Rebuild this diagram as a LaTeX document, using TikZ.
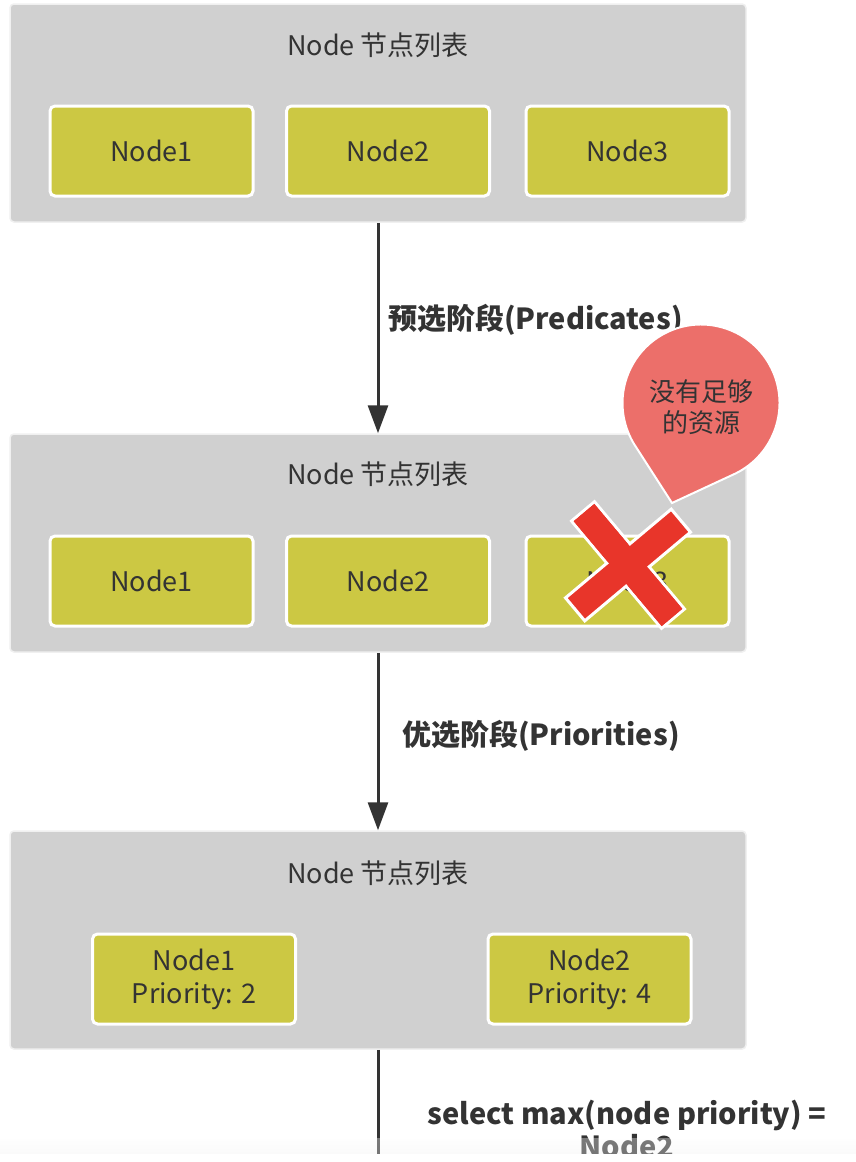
\documentclass[tikz,border=0pt]{standalone}
\usepackage{fontspec}
\setmainfont{Noto Sans CJK SC}
\usetikzlibrary{arrows.meta,calc}
\definecolor{outerfill}{HTML}{D0D0D0}
\definecolor{innerfill}{HTML}{CCC843}
\definecolor{txt}{HTML}{333333}
\definecolor{balloon}{HTML}{EC6F6A}
\definecolor{xred}{HTML}{E8352A}
\tikzset{
  outerbox/.style={fill=outerfill, draw=gray!12, line width=1.5pt, rounded corners=4pt, minimum width=736pt, minimum height=218pt, inner sep=0pt},
  innerbox/.style={fill=innerfill, draw=white, line width=3pt, rounded corners=5pt, minimum width=203pt, minimum height=90pt, inner sep=0pt, text=txt, font=\fontsize{27}{33}\selectfont, align=center},
  titletext/.style={text=txt, font=\fontsize{27}{30}\selectfont, inner sep=0pt},
  steplabel/.style={text=txt, font=\bfseries\fontsize{29}{33}\selectfont, inner sep=0pt},
  flow/.style={draw=txt, line width=3pt, -{Triangle[length=28pt,width=20pt]}},
  xbar/.style={fill=xred}
}
\begin{document}
\begin{tikzpicture}[x=1pt,y=1pt]
\useasboundingbox (0,0) rectangle (856,-1162);
\fill[white] (0,0) rectangle (856,-1162);
\begin{scope}
\clip (0,0) rectangle (856,-1153);

% box 1
\node[outerbox] (box1) at (378,-113) {};
\node[titletext] (t1) at (378,-45) {Node 节点列表};
\node[innerbox] (a1) at (151.5,-151) {Node1};
\node[innerbox] (a2) at (388,-151) {Node2};
\node[innerbox] (a3) at (627.5,-151) {Node3};

% box 2
\node[outerbox] (box2) at (378,-543) {};
\node[titletext] (t2) at (378,-474) {Node 节点列表};
\node[innerbox] (b1) at (151.5,-581) {Node1};
\node[innerbox] (b2) at (388,-581) {Node2};
\node[innerbox] (b3) at (627.5,-581) {Node3};

% box 3
\node[outerbox] (box3) at (378,-940) {};
\node[titletext] (t3) at (378,-873) {Node 节点列表};
\node[innerbox] (c1) at (194,-979) {Node1\\Priority: 2};
\node[innerbox] (c2) at (589.5,-979) {Node2\\Priority: 4};

% connectors
\draw[flow] (box1.south) -- (box2.north);
\node[steplabel, anchor=west] (l1) at (388,-320) {预选阶段(Predicates)};
\draw[flow] (box2.south) -- (box3.north);
\node[steplabel, anchor=west] (l2) at (402,-736) {优选阶段(Priorities)};
\coordinate (endpt) at (378,-1180);
\draw[draw=txt, line width=3pt] (box3.south) -- (endpt);
\node[steplabel, align=center] (l3) at (627,-1129) {select max(node priority) =\\Node2};

% red X
\begin{scope}[shift={(628,-565)}]
  \begin{scope}[rotate=-50]
    \filldraw[xbar, draw=white, line width=3pt] (-70,-15) rectangle (70,15);
  \end{scope}
  \begin{scope}[rotate=40]
    \filldraw[xbar, draw=white, line width=3pt] (-69,-15) rectangle (69,15);
  \end{scope}
  \begin{scope}[rotate=-50]
    \fill[xbar] (-68.5,-13.5) rectangle (68.5,13.5);
  \end{scope}
\end{scope}

% balloon
\coordinate (btip) at (672,-503);
\filldraw[fill=balloon, draw=white, line width=2pt]
  (btip) -- ($(701,-403)+(296:78.5)$) arc (296:572:78.5) -- cycle;
\node[text=txt, font=\fontsize{26}{31}\selectfont, align=center, inner sep=0pt] (bt) at (701,-407) {没有足够\\的资源};

% faint bottom shading
\shade[top color=white, bottom color=gray!10, opacity=0.35] (0,-1138) rectangle (856,-1153);
\end{scope}
\end{tikzpicture}
\end{document}
